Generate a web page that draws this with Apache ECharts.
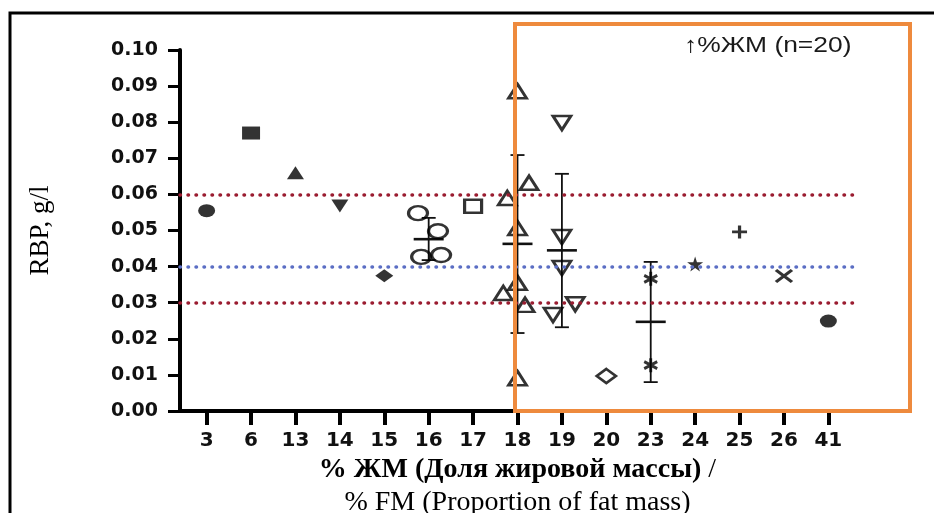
<!DOCTYPE html>
<html>
<head>
<meta charset="utf-8">
<script src="https://cdn.jsdelivr.net/npm/echarts@6/dist/echarts.min.js"></script>
<style>
html,body{margin:0;padding:0;background:#fff}
#chart{width:934px;height:513px}
</style>
</head>
<body>
<div id="chart"></div>
<script>
// категории %ЖМ
var categories = ['3', '6', '13', '14', '15', '16', '17', '18', '19', '20', '23', '24', '25', '26', '41'];
var yTicks = [0, 0.01, 0.02, 0.03, 0.04, 0.05, 0.06, 0.07, 0.08, 0.09, 0.10];

// значения RBP, g/l по группам
var rbp3 = [0.0555];
var rbp6 = [0.0770];
var rbp13 = [0.0660];
var rbp14 = [0.0568];
var rbp15 = [0.0375];
var rbp16 = [0.0548, 0.0498, 0.0427, 0.0432];
var jit16 = [-0.24, 0.21, -0.17, 0.28];
var rbp17 = [0.0567];
var rbp18 = [0.0886, 0.0632, 0.0590, 0.0507, 0.0355, 0.0327, 0.0294, 0.0091];
var jit18 = [0, 0.26, -0.23, 0, 0, -0.32, 0.17, 0];
var rbp19 = [0.0798, 0.0482, 0.0396, 0.0266, 0.0296];
var jit19 = [0, 0, 0, -0.2, 0.3];
var rbp20 = [0.0097];
var rbp23 = [0.0366, 0.0127];
var rbp24 = [0.0407];
var rbp25 = [0.0496];
var rbp26 = [0.0374];
var rbp41 = [0.0249];

// среднее и SD
var errCats = ['16', '18', '19', '23'];
var errMean = [0.0476, 0.0463, 0.0445, 0.0247];
var errLow = [0.0418, 0.0216, 0.0232, 0.0080];
var errHigh = [0.0535, 0.0709, 0.0657, 0.0413];

// референсные линии
var refHigh = 0.06, refLow = 0.03, refMid = 0.038;

function pts(cat, vals, jit) {
    var i0 = categories.indexOf(cat);
    return vals.map(function (v, i) { return [i0 + (jit ? jit[i] : 0), v]; });
}

var starPath = 'path://M50,0L61,35L98,35L68,57L79,91L50,70L21,91L32,57L2,35L39,35Z';
var plusPath = 'path://M5,0L5,10M0,5L10,5';
var crossPath = 'path://M0,0L10,10M10,0L0,10';
var asterPath = 'path://M5,0L5,10M0.7,2.5L9.3,7.5M0.7,7.5L9.3,2.5';

var filled = {color: '#000'};
var open = {color: 'rgba(255,255,255,0)', borderColor: '#000', borderWidth: 2.8};
var stroke = {color: 'rgba(255,255,255,0)', borderColor: '#000', borderWidth: 3};

var chart = echarts.init(document.getElementById('chart'));
var option = {
    animation: false,
    backgroundColor: '#fff',
    grid: {left: 180, right: 79, top: 50, bottom: 102, outerBoundsMode: 'none'},
    xAxis: {
        type: 'value',
        min: -0.6,
        max: 14.6,
        splitLine: {show: false},
        axisLine: {onZero: false, lineStyle: {color: '#000', width: 4}},
        axisTick: {
            customValues: categories.map(function (c, i) { return i; }),
            length: 14,
            lineStyle: {color: '#000', width: 4}
        },
        axisLabel: {
            customValues: categories.map(function (c, i) { return i; }),
            formatter: function (v) { return categories[Math.round(v)]; },
            margin: 20,
            fontFamily: 'DejaVu Sans',
            fontWeight: 'bold',
            fontSize: 20,
            color: '#111'
        },
        name: '{b|% ЖМ (Доля жировой массы)}{n| /}\n{n|% FM (Proportion of fat mass)}',
        nameLocation: 'middle',
        nameGap: 28,
        nameTextStyle: {
            rich: {
                b: {fontFamily: 'Liberation Serif', fontWeight: 'bold', fontSize: 28, lineHeight: 33, color: '#000'},
                n: {fontFamily: 'Liberation Serif', fontSize: 28, lineHeight: 33, color: '#000'}
            }
        }
    },
    yAxis: {
        type: 'value',
        min: 0,
        max: 0.1,
        interval: 0.01,
        splitLine: {show: false},
        axisLine: {show: true, onZero: false, lineStyle: {color: '#000', width: 4}},
        axisTick: {show: true, length: 12, lineStyle: {color: '#000', width: 3}},
        axisLabel: {
            customValues: yTicks,
            formatter: function (v) { return v.toFixed(2); },
            margin: 22,
            fontFamily: 'DejaVu Sans',
            fontWeight: 'bold',
            fontSize: 19,
            color: '#111'
        },
        name: 'RBP, g/l',
        nameLocation: 'middle',
        nameGap: 126,
        nameTextStyle: {fontFamily: 'Liberation Serif', fontSize: 27, color: '#000'}
    },
    series: [
        {
            type: 'custom',
            z: 1,
            renderItem: function (params, api) {
                var x = api.value(0);
                var pm = api.coord([x, api.value(1)]);
                var pl = api.coord([x, api.value(2)]);
                var ph = api.coord([x, api.value(3)]);
                var st = {stroke: '#111', lineWidth: 1.8};
                return {
                    type: 'group',
                    children: [
                        {type: 'line', shape: {x1: pl[0], y1: pl[1], x2: ph[0], y2: ph[1]}, style: st},
                        {type: 'line', shape: {x1: ph[0] - 7, y1: ph[1], x2: ph[0] + 7, y2: ph[1]}, style: st},
                        {type: 'line', shape: {x1: pl[0] - 7, y1: pl[1], x2: pl[0] + 7, y2: pl[1]}, style: st},
                        {type: 'line', shape: {x1: pm[0] - 15, y1: pm[1], x2: pm[0] + 15, y2: pm[1]}, style: {stroke: '#111', lineWidth: 2.6}}
                    ]
                };
            },
            data: errCats.map(function (c, i) {
                return [categories.indexOf(c), errMean[i], errLow[i], errHigh[i]];
            }),
            markLine: {
                silent: true,
                symbol: 'none',
                label: {show: false},
                lineStyle: {type: [0.5, 7.5], cap: 'round', width: 3.5},
                data: [
                    {yAxis: refHigh, lineStyle: {color: '#9A1C30'}},
                    {yAxis: refLow, lineStyle: {color: '#9A1C30'}},
                    {yAxis: refMid, lineStyle: {color: '#5B6EC4'}}
                ]
            }
        },
        {type: 'scatter', z: 3, symbol: 'circle', symbolSize: [17, 13], itemStyle: filled, data: pts('3', rbp3)},
        {type: 'scatter', z: 3, symbol: 'rect', symbolSize: [18, 13], itemStyle: filled, data: pts('6', rbp6)},
        {type: 'scatter', z: 3, symbol: 'triangle', symbolSize: [17, 13], itemStyle: filled, data: pts('13', rbp13)},
        {type: 'scatter', z: 3, symbol: 'triangle', symbolRotate: 180, symbolSize: [17, 13], itemStyle: filled, data: pts('14', rbp14)},
        {type: 'scatter', z: 3, symbol: 'diamond', symbolSize: [18, 13], itemStyle: filled, data: pts('15', rbp15)},
        {type: 'scatter', z: 3, symbol: 'circle', symbolSize: [19, 14], itemStyle: open, data: pts('16', rbp16, jit16)},
        {type: 'scatter', z: 3, symbol: 'rect', symbolSize: [17, 13], itemStyle: open, data: pts('17', rbp17)},
        {type: 'scatter', z: 3, symbol: 'triangle', symbolSize: [18, 14], itemStyle: open, data: pts('18', rbp18, jit18)},
        {type: 'scatter', z: 3, symbol: 'triangle', symbolRotate: 180, symbolSize: [18, 14], itemStyle: open, data: pts('19', rbp19, jit19)},
        {type: 'scatter', z: 3, symbol: 'diamond', symbolSize: [19, 14], itemStyle: open, data: pts('20', rbp20)},
        {type: 'scatter', z: 3, symbol: asterPath, symbolSize: [13, 14], itemStyle: stroke, data: pts('23', rbp23)},
        {type: 'scatter', z: 3, symbol: starPath, symbolSize: [16, 15], itemStyle: filled, data: pts('24', rbp24)},
        {type: 'scatter', z: 3, symbol: plusPath, symbolSize: [15, 13], itemStyle: stroke, data: pts('25', rbp25)},
        {type: 'scatter', z: 3, symbol: crossPath, symbolSize: [16, 12], itemStyle: stroke, data: pts('26', rbp26)},
        {type: 'scatter', z: 3, symbol: 'circle', symbolSize: [17, 13], itemStyle: filled, data: pts('41', rbp41)}
    ],
    graphic: [
        {
            type: 'polyline',
            z: 50,
            shape: {points: [[10, 513], [10, 13], [934, 13]]},
            style: {stroke: '#000', lineWidth: 3, fill: null}
        },
        {
            type: 'rect',
            z: 100,
            shape: {x: 515, y: 24, width: 395, height: 387},
            style: {fill: null, stroke: '#EE8A3D', lineWidth: 4}
        },
        {
            type: 'text',
            z: 100,
            x: 684,
            y: 46,
            scaleX: 1.2,
            style: {
                text: '↑%ЖМ (n=20)',
                font: '22px "Liberation Sans"',
                fill: '#1a1a1a',
                textVerticalAlign: 'middle'
            }
        }
    ]
};
chart.setOption(option);
</script>
</body>
</html>
